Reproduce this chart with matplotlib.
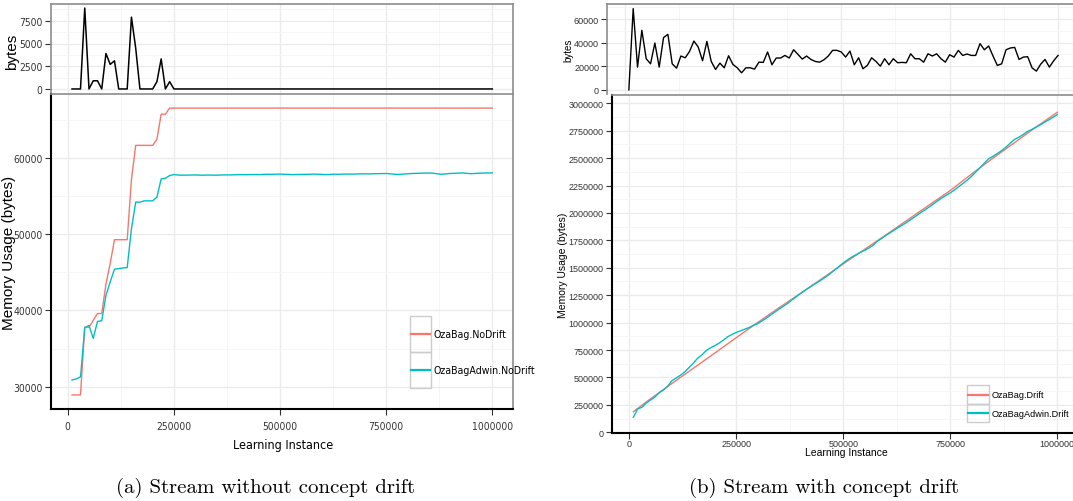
import os
import numpy as np
import matplotlib
matplotlib.use('Agg')
import matplotlib.pyplot as plt
from matplotlib import font_manager
from matplotlib.font_manager import FontProperties
from matplotlib.patches import Rectangle
from matplotlib.lines import Line2D
from matplotlib.ticker import MultipleLocator, FixedLocator

W, H = 1073, 502

# learning instances, sampled every 10000
instances = np.arange(10000, 1000001, 10000)

# (a) no drift
nodrift_bytes = [0, 0, 0, 8900, 0, 900, 900, 0, 3900, 2700,
                 3100, 0, 0, 0, 7900, 4500, 0, 0, 0, 0,
                 800, 3300, 0, 800, 0] + [0] * 75
ozabag_nodrift = [28900, 28900, 28900, 37800, 37800, 38700, 39600, 39600, 43500, 46200,
                  49300, 49300, 49300, 49300, 57200, 61700, 61700, 61700, 61700, 61700,
                  62500, 65800, 65800, 66600] + [66600] * 76
adwin_nodrift = [30870, 31000, 31270, 37730, 38040, 36330, 38560, 38650, 42000, 43760,
                 45420, 45500, 45590, 45630, 50740, 54240, 54240, 54410, 54410, 54410,
                 54890, 57290, 57380, 57730, 57860,
                 57800, 57780, 57790, 57800, 57810, 57790, 57780, 57800, 57790, 57780,
                 57800, 57820, 57810, 57830, 57840,
                 57850, 57840, 57860, 57870, 57860, 57880, 57900, 57890, 57910, 57920,
                 57900, 57880, 57860, 57870, 57880, 57890, 57900, 57920, 57900, 57880,
                 57860, 57890, 57910, 57900, 57920, 57930, 57920, 57940, 57950, 57960,
                 57950, 57970, 57980, 57990, 58000, 57960, 57900, 57880, 57920, 57960,
                 58000, 58020, 58040, 58050, 58060, 58050, 57960, 57900, 57950, 58000,
                 58030, 58050, 58070, 58020, 57980, 58010, 58040, 58060, 58070, 58080]

# (b) with drift
drift_bytes = [0, 68900, 19300, 50500, 26400, 22100, 39700, 19300, 44300, 47100,
               22100, 18400, 28700, 27200, 32600, 41400, 36300, 24700, 41100, 24100,
               17300, 22700, 18700, 28900, 21600, 18700, 14500, 18700, 18700, 17600,
               23500, 23300, 32100, 21300, 27000, 27000, 29200, 27000, 34000, 30100,
               26100, 28700, 25800, 24100, 23500, 25500, 28700, 33500, 33500, 32100,
               27800, 32900, 21300, 27200, 17900, 20700, 27200, 24100, 20100, 26400,
               21300, 26400, 23000, 23300, 23000, 30600, 26400, 26400, 23500, 30600,
               28700, 30600, 26400, 23500, 29800, 27800, 33500, 29200, 30400, 29200,
               29200, 39200, 34000, 37200, 28700, 20700, 22100, 34000, 35500, 36000,
               25800, 27800, 28100, 18700, 15900, 21800, 25800, 19300, 24700, 29200]
ozabag_drift_x = [10000, 50000, 100000, 150000, 200000, 250000, 300000, 350000, 400000,
                  450000, 500000, 550000, 600000, 650000, 700000, 750000, 800000,
                  850000, 900000, 950000, 1000000]
ozabag_drift = [188000, 305000, 445000, 583000, 722000, 862000, 1000000, 1135000, 1265000,
                1400000, 1535000, 1668000, 1800000, 1935000, 2070000, 2204000, 2355000,
                2500000, 2640000, 2782000, 2918000]
adwin_drift = [137000, 213000, 228000, 265000, 295000, 320000, 360000, 385000, 420000, 470000,
               495000, 520000, 550000, 590000, 630000, 675000, 705000, 745000, 770000, 790000,
               812000, 840000, 870000, 892000, 910000, 925000, 940000, 955000, 975000, 990000,
               1015000, 1040000, 1068000, 1095000, 1122000, 1148000, 1175000, 1205000, 1235000, 1265000,
               1292000, 1318000, 1343000, 1367000, 1392000, 1418000, 1447000, 1480000, 1511000, 1543000,
               1572000, 1598000, 1618000, 1640000, 1658000, 1680000, 1705000, 1742000, 1768000, 1795000,
               1820000, 1845000, 1870000, 1893000, 1918000, 1945000, 1972000, 2000000, 2025000, 2052000,
               2080000, 2108000, 2135000, 2160000, 2182000, 2210000, 2240000, 2270000, 2300000, 2335000,
               2375000, 2415000, 2455000, 2495000, 2517000, 2541000, 2568000, 2599000, 2635000, 2669000,
               2690000, 2714000, 2742000, 2760000, 2781000, 2802000, 2827000, 2848000, 2872000, 2897000]

x_ticks = [0, 250000, 500000, 750000, 1000000]
x_tick_labels = ['0', '250000', '500000', '750000', '1000000']

RED = '#F8766D'
CYAN = '#00BFC4'
GRID_MAJ = '#EBEBEB'
GRID_MIN = '#F5F5F5'
BORDER = '#8C8C8C'
TXT = '#333333'
SANS = ['Liberation Sans', 'DejaVu Sans']

# the left figure uses a condensed face; take one if the system has it
narrow_path = None
for pref in ['LiberationSansNarrow-Regular', 'DejaVuSansCondensed.', 'Arial Narrow']:
    for f in font_manager.fontManager.ttflist:
        if pref in os.path.basename(f.fname):
            narrow_path = f.fname
            break
    if narrow_path:
        break


def narrow(size):
    if narrow_path:
        return FontProperties(fname=narrow_path, size=size)
    return FontProperties(family=SANS, size=size * 0.85)


fig = plt.figure(figsize=(W / 100, H / 100), dpi=100)


def add_ax(x0, y0, x1, y1):
    # pixel box (top-left origin) -> figure axes
    return fig.add_axes([x0 / W, 1 - y1 / H, (x1 - x0) / W, (y1 - y0) / H])


def ftext(px, py, s, **kw):
    return fig.text(px / W, 1 - py / H, s, ha='center', va='center', **kw)


def style(ax, ymaj, ymin, top_panel):
    ax.set_xlim(-39500, 1049500)
    ax.xaxis.set_major_locator(FixedLocator(x_ticks))
    ax.xaxis.set_minor_locator(MultipleLocator(125000))
    ax.yaxis.set_major_locator(MultipleLocator(ymaj))
    ax.yaxis.set_minor_locator(MultipleLocator(ymin))
    ax.grid(which='major', color=GRID_MAJ, lw=1.0)
    ax.grid(which='minor', color=GRID_MIN, lw=0.6)
    ax.set_axisbelow(True)
    ax.tick_params(which='minor', length=0)
    ax.tick_params(which='major', length=4, width=0.8, color=TXT, labelcolor=TXT, pad=2)
    for s in ax.spines.values():
        s.set_color(BORDER)
        s.set_linewidth(1.2)
    if top_panel:
        ax.tick_params(axis='x', length=0, labelbottom=False)
        ax.spines['bottom'].set_visible(False)
    else:
        ax.spines['left'].set_color('black')
        ax.spines['bottom'].set_color('black')
        ax.spines['left'].set_linewidth(1.5)
        ax.spines['bottom'].set_linewidth(1.5)
        ax.set_xticklabels(x_tick_labels)


def key_legend(entries, x0, x1, rows, tx, fp):
    for (label, color), (ya, yb) in zip(entries, rows):
        fig.add_artist(Rectangle((x0 / W, 1 - yb / H), (x1 - x0) / W, (yb - ya) / H,
                                 transform=fig.transFigure, fill=False,
                                 edgecolor='#CCCCCC', lw=1.0))
        yc = 1 - (ya + yb) / 2 / H
        fig.add_artist(Line2D([(x0 + 1) / W, (x1 - 1) / W], [yc, yc],
                              transform=fig.transFigure, color=color, lw=1.6))
        fig.text(tx / W, yc, label, fontproperties=fp, color='black',
                 ha='left', va='center')


# ---------- (a) stream without concept drift ----------
ax1 = add_ax(51, 5, 513.3, 94)
ax1.plot(instances, nodrift_bytes, color='black', lw=1.1)
style(ax1, 2500, 1250, True)
ax1.set_ylim(-445, 9345)
ax1.set_yticks([0, 2500, 5000, 7500])
for lab in ax1.get_yticklabels():
    lab.set_fontproperties(narrow(7.4))
ftext(12, 52, 'bytes', rotation=90, fontsize=11, family=SANS)

ax2 = add_ax(51, 95, 513.3, 410)
ax2.plot(instances, ozabag_nodrift, color=RED, lw=1.0)
ax2.plot(instances, adwin_nodrift, color=CYAN, lw=1.0)
style(ax2, 10000, 5000, False)
ax2.set_ylim(27050, 68450)
ax2.set_yticks([30000, 40000, 50000, 60000])
ax2.tick_params(axis='x', pad=5)
for lab in ax2.get_xticklabels() + ax2.get_yticklabels():
    lab.set_fontproperties(narrow(7.4))
ftext(283, 446, 'Learning Instance', fontproperties=narrow(9))
ftext(9, 253, 'Memory Usage (bytes)', rotation=90, fontsize=11, family=SANS)

key_legend([('OzaBag.NoDrift', RED), ('OzaBagAdwin.NoDrift', CYAN)],
           410, 430.7, [(317, 353), (353, 389)], 433, narrow(7.6))

# ---------- (b) stream with concept drift ----------
ax3 = add_ax(607.4, 5, 1079.5, 95)
ax3.plot(instances, drift_bytes, color='black', lw=1.0)
style(ax3, 20000, 10000, True)
ax3.set_ylim(-3500, 72800)
ax3.set_yticks([0, 20000, 40000, 60000])
for lab in ax3.get_yticklabels():
    lab.set_family(SANS)
    lab.set_fontsize(6.5)
ftext(568, 50, 'bytes', rotation=90, fontsize=7, family=SANS)

ax4 = add_ax(612.1, 96, 1078.5, 434)
ax4.plot(ozabag_drift_x, ozabag_drift, color=RED, lw=1.0)
ax4.plot(instances, adwin_drift, color=CYAN, lw=1.0)
style(ax4, 250000, 125000, False)
ax4.set_ylim(-6000, 3075000)
ax4.set_yticks(np.arange(0, 3000001, 250000))
ax4.set_yticklabels([str(v) for v in range(0, 3000001, 250000)])
ax4.tick_params(axis='x', pad=0.5)
for lab in ax4.get_xticklabels() + ax4.get_yticklabels():
    lab.set_family(SANS)
    lab.set_fontsize(6.5)
ftext(846, 453, 'Learning Instance', fontsize=7.5, family=SANS)
ftext(563, 265, 'Memory Usage (bytes)', rotation=90, fontsize=7.5, family=SANS)

key_legend([('OzaBag.Drift', RED), ('OzaBagAdwin.Drift', CYAN)],
           967.3, 989.3, [(386, 405), (405, 423.3)], 992, FontProperties(family=SANS, size=6.6))

# captions
ftext(266, 488, '(a) Stream without concept drift', fontsize=15, family='cmr10')
ftext(824, 488, '(b) Stream with concept drift', fontsize=15, family='cmr10')

fig.savefig('out.png', dpi=100)
